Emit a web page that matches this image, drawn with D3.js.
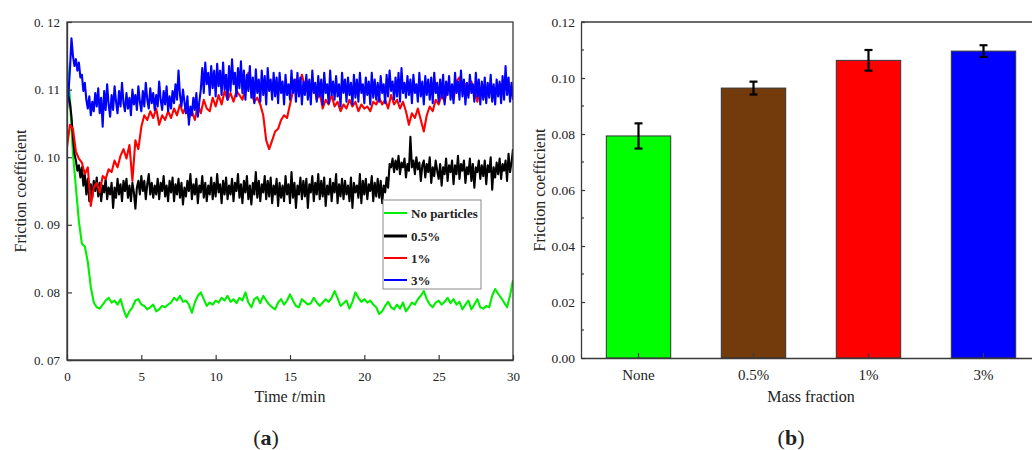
<!DOCTYPE html>
<html>
<head>
<meta charset="utf-8">
<script src="https://cdn.jsdelivr.net/npm/d3@7"></script>
<style>
  html, body { margin: 0; padding: 0; background: #fff; }
  svg { display: block; }
  text { font-family: "Liberation Serif", "Times New Roman", serif; fill: #222; }
</style>
</head>
<body>
<svg id="fig" width="1032" height="450"></svg>
<script>
// ---------- (a) friction coefficient vs time ----------
// "No particles" and "1%" are sampled every 0.2 min, "0.5%" and "3%" every 0.1 min
const stepCoarseMin = 0.2;
const stepFineMin = 0.1;
const seriesNames = ["No particles", "0.5%", "1%", "3%"];
const seriesColors = ["#00ee00", "#000000", "#ff0000", "#0000ff"];

const muNone = [
  0.1142, 0.1085, 0.1005, 0.0955, 0.0905,
  0.0872, 0.0868, 0.0845, 0.0808, 0.0785,
  0.0778, 0.0776, 0.0782, 0.0788, 0.0792,
  0.0785, 0.0788, 0.0782, 0.0790, 0.0775,
  0.0763, 0.0772, 0.0778, 0.0788, 0.0790,
  0.0782, 0.0780, 0.0775, 0.0778, 0.0782,
  0.0772, 0.0775, 0.0780, 0.0778, 0.0782,
  0.0785, 0.0792, 0.0788, 0.0795, 0.0786,
  0.0788, 0.0782, 0.0770, 0.0785, 0.0795,
  0.0800, 0.0790, 0.0780, 0.0785, 0.0782,
  0.0788, 0.0785, 0.0792, 0.0788, 0.0795,
  0.0786, 0.0790, 0.0784, 0.0792, 0.0788,
  0.0800, 0.0785, 0.0778, 0.0790, 0.0793,
  0.0784, 0.0795, 0.0788, 0.0782, 0.0778,
  0.0775, 0.0785, 0.0790, 0.0782, 0.0788,
  0.0797, 0.0788, 0.0780, 0.0778, 0.0790,
  0.0786, 0.0782, 0.0784, 0.0792, 0.0785,
  0.0780, 0.0785, 0.0790, 0.0786, 0.0792,
  0.0802, 0.0792, 0.0780, 0.0784, 0.0788,
  0.0776, 0.0786, 0.0800, 0.0792, 0.0786,
  0.0790, 0.0785, 0.0788, 0.0782, 0.0778,
  0.0768, 0.0772, 0.0780, 0.0786, 0.0778,
  0.0775, 0.0782, 0.0776, 0.0785, 0.0772,
  0.0778, 0.0785, 0.0782, 0.0790, 0.0795,
  0.0802, 0.0790, 0.0782, 0.0778, 0.0785,
  0.0788, 0.0782, 0.0786, 0.0792, 0.0784,
  0.0790, 0.0782, 0.0786, 0.0775, 0.0782,
  0.0788, 0.0775, 0.0782, 0.0790, 0.0778,
  0.0776, 0.0780, 0.0778, 0.0795, 0.0805,
  0.0798, 0.0792, 0.0785, 0.0778, 0.0795,
  0.0818
];

const mu05 = [
  0.1105, 0.1090, 0.1080, 0.1060, 0.1030, 0.1005, 0.0995, 0.0980, 0.0988, 0.0970,
  0.0985, 0.0958, 0.0975, 0.0945, 0.0968, 0.0935, 0.0960, 0.0940, 0.0965, 0.0950,
  0.0970, 0.0942, 0.0962, 0.0935, 0.0958, 0.0948, 0.0968, 0.0938, 0.0955, 0.0945,
  0.0962, 0.0925, 0.0955, 0.0940, 0.0968, 0.0945, 0.0960, 0.0935, 0.0965, 0.0950,
  0.0968, 0.0940, 0.0958, 0.0935, 0.0962, 0.0948, 0.0924, 0.0955, 0.0965, 0.0945,
  0.0972, 0.0950, 0.0965, 0.0938, 0.0960, 0.0975, 0.0945, 0.0962, 0.0940, 0.0958,
  0.0945, 0.0968, 0.0938, 0.0962, 0.0950, 0.0972, 0.0942, 0.0958, 0.0935, 0.0965,
  0.0948, 0.0970, 0.0935, 0.0960, 0.0945, 0.0968, 0.0940, 0.0962, 0.0930, 0.0955,
  0.0942, 0.0965, 0.0950, 0.0975, 0.0938, 0.0960, 0.0945, 0.0968, 0.0932, 0.0958,
  0.0948, 0.0972, 0.0940, 0.0962, 0.0935, 0.0958, 0.0945, 0.0970, 0.0938, 0.0962,
  0.0942, 0.0975, 0.0948, 0.0960, 0.0932, 0.0965, 0.0945, 0.0970, 0.0938, 0.0958,
  0.0945, 0.0968, 0.0935, 0.0962, 0.0950, 0.0975, 0.0940, 0.0960, 0.0932, 0.0965,
  0.0948, 0.0972, 0.0938, 0.0958, 0.0930, 0.0962, 0.0945, 0.0978, 0.0940, 0.0965,
  0.0935, 0.0960, 0.0948, 0.0972, 0.0938, 0.0965, 0.0942, 0.0970, 0.0932, 0.0958,
  0.0945, 0.0968, 0.0928, 0.0962, 0.0940, 0.0958, 0.0935, 0.0972, 0.0945, 0.0960,
  0.0932, 0.0978, 0.0940, 0.0962, 0.0925, 0.0958, 0.0945, 0.0970, 0.0938, 0.0965,
  0.0942, 0.0968, 0.0925, 0.0960, 0.0948, 0.0972, 0.0935, 0.0962, 0.0945, 0.0975,
  0.0938, 0.0965, 0.0942, 0.0970, 0.0928, 0.0958, 0.0945, 0.0968, 0.0935, 0.0962,
  0.0948, 0.0975, 0.0932, 0.0960, 0.0942, 0.0968, 0.0938, 0.0965, 0.0945, 0.0958,
  0.0935, 0.0970, 0.0925, 0.0962, 0.0948, 0.0958, 0.0940, 0.0975, 0.0932, 0.0965,
  0.0945, 0.0968, 0.0938, 0.0960, 0.0950, 0.0972, 0.0935, 0.0962, 0.0942, 0.0968,
  0.0940, 0.0965, 0.0932, 0.0958, 0.0948, 0.0970, 0.0955, 0.0990, 0.0985, 0.0998,
  0.0978, 0.0995, 0.0982, 0.1002, 0.0975, 0.0992, 0.0985, 0.0998, 0.0970, 0.0990,
  0.0980, 0.1030, 0.0985, 0.0995, 0.0975, 0.1000, 0.0982, 0.0992, 0.0965, 0.0988,
  0.0995, 0.0970, 0.0990, 0.0978, 0.1000, 0.0962, 0.0985, 0.0972, 0.0995, 0.0980,
  0.0968, 0.0990, 0.0958, 0.0985, 0.0975, 0.0998, 0.0965, 0.0988, 0.0978, 0.0995,
  0.0960, 0.0988, 0.0975, 0.1002, 0.0968, 0.0990, 0.0980, 0.0995, 0.0962, 0.0985,
  0.0975, 0.0998, 0.0965, 0.0990, 0.0955, 0.0985, 0.0978, 0.0995, 0.0968, 0.0988,
  0.0972, 0.0995, 0.0960, 0.0988, 0.0978, 0.1000, 0.0952, 0.0985, 0.0970, 0.0992,
  0.0975, 0.0998, 0.0968, 0.0990, 0.0980, 0.0995, 0.0965, 0.1005, 0.0978, 0.0992,
  0.1012
];

const mu1 = [
  0.1015, 0.1048, 0.1042, 0.1008, 0.0998,
  0.0992, 0.0975, 0.0985, 0.0928, 0.0955,
  0.0962, 0.0948, 0.0972, 0.0968, 0.0982,
  0.0978, 0.0995, 0.0985, 0.1002, 0.1012,
  0.0998, 0.1018, 0.0965, 0.1025, 0.1012,
  0.1045, 0.1062, 0.1055, 0.1068, 0.1058,
  0.1072, 0.1048, 0.1062, 0.1055, 0.1068,
  0.1058, 0.1072, 0.1062, 0.1078, 0.1065,
  0.1075, 0.1058, 0.1068, 0.1055, 0.1078,
  0.1065, 0.1085, 0.1072, 0.1068, 0.1088,
  0.1075, 0.1092, 0.1078, 0.1098, 0.1085,
  0.1095, 0.1082, 0.1098, 0.1092, 0.1085,
  0.1102, 0.1125, 0.1095, 0.1082, 0.1088,
  0.1078, 0.1062, 0.1025, 0.1012, 0.1025,
  0.1038, 0.1042, 0.1055, 0.1062, 0.1058,
  0.1078, 0.1098, 0.1115, 0.1102, 0.1122,
  0.1105, 0.1112, 0.1098, 0.1108, 0.1085,
  0.1095, 0.1072, 0.1085, 0.1078, 0.1092,
  0.1075, 0.1082, 0.1068, 0.1078, 0.1072,
  0.1085, 0.1075, 0.1082, 0.1068, 0.1078,
  0.1072, 0.1075, 0.1068, 0.1082, 0.1078,
  0.1088, 0.1078, 0.1085, 0.1072, 0.1092,
  0.1078, 0.1085, 0.1072, 0.1082, 0.1068,
  0.1048, 0.1065, 0.1058, 0.1072, 0.1055,
  0.1038, 0.1062, 0.1075, 0.1068, 0.1085,
  0.1078, 0.1092, 0.1082, 0.1105, 0.1098,
  0.1085, 0.1112, 0.1118, 0.1098, 0.1108,
  0.1092, 0.1112, 0.1098, 0.1082, 0.1102,
  0.1088, 0.1098, 0.1105, 0.1092, 0.1102,
  0.1095, 0.1108, 0.1098, 0.1105, 0.1092,
  0.1095
];

const mu3 = [
  0.1070, 0.1095, 0.1130, 0.1176, 0.1150, 0.1135, 0.1145, 0.1128, 0.1140, 0.1118,
  0.1122, 0.1098, 0.1110, 0.1085, 0.1072, 0.1090, 0.1062, 0.1082, 0.1068, 0.1095,
  0.1075, 0.1102, 0.1065, 0.1088, 0.1045, 0.1098, 0.1070, 0.1108, 0.1078, 0.1060,
  0.1092, 0.1070, 0.1105, 0.1082, 0.1065, 0.1098, 0.1075, 0.1110, 0.1080, 0.1068,
  0.1095, 0.1072, 0.1088, 0.1062, 0.1100, 0.1078, 0.1092, 0.1070, 0.1105, 0.1082,
  0.1068, 0.1098, 0.1075, 0.1110, 0.1085, 0.1072, 0.1102, 0.1080, 0.1095, 0.1070,
  0.1092, 0.1075, 0.1112, 0.1085, 0.1070, 0.1098, 0.1078, 0.1105, 0.1068, 0.1090,
  0.1072, 0.1098, 0.1080, 0.1108, 0.1085, 0.1128, 0.1092, 0.1075, 0.1100, 0.1082,
  0.1065, 0.1090, 0.1048, 0.1075, 0.1062, 0.1088, 0.1070, 0.1095, 0.1060, 0.1082,
  0.1100, 0.1132, 0.1095, 0.1140, 0.1108, 0.1125, 0.1092, 0.1135, 0.1102, 0.1128,
  0.1090, 0.1138, 0.1105, 0.1128, 0.1092, 0.1140, 0.1100, 0.1122, 0.1085, 0.1135,
  0.1098, 0.1145, 0.1108, 0.1125, 0.1090, 0.1132, 0.1102, 0.1142, 0.1095, 0.1128,
  0.1085, 0.1122, 0.1098, 0.1135, 0.1088, 0.1118, 0.1080, 0.1130, 0.1095, 0.1115,
  0.1082, 0.1128, 0.1092, 0.1120, 0.1078, 0.1132, 0.1098, 0.1115, 0.1085, 0.1125,
  0.1090, 0.1118, 0.1080, 0.1125, 0.1095, 0.1112, 0.1078, 0.1122, 0.1092, 0.1108,
  0.1085, 0.1128, 0.1095, 0.1115, 0.1082, 0.1125, 0.1090, 0.1118, 0.1078, 0.1112,
  0.1092, 0.1122, 0.1085, 0.1115, 0.1078, 0.1128, 0.1095, 0.1110, 0.1082, 0.1120,
  0.1090, 0.1115, 0.1078, 0.1125, 0.1095, 0.1108, 0.1080, 0.1128, 0.1092, 0.1112,
  0.1085, 0.1120, 0.1090, 0.1108, 0.1075, 0.1125, 0.1095, 0.1115, 0.1082, 0.1118,
  0.1092, 0.1110, 0.1078, 0.1122, 0.1088, 0.1115, 0.1082, 0.1125, 0.1095, 0.1108,
  0.1080, 0.1118, 0.1092, 0.1112, 0.1078, 0.1125, 0.1088, 0.1115, 0.1085, 0.1110,
  0.1082, 0.1120, 0.1095, 0.1108, 0.1080, 0.1122, 0.1090, 0.1128, 0.1098, 0.1112,
  0.1085, 0.1118, 0.1090, 0.1125, 0.1082, 0.1132, 0.1095, 0.1110, 0.1088, 0.1120,
  0.1092, 0.1115, 0.1080, 0.1122, 0.1095, 0.1108, 0.1082, 0.1125, 0.1090, 0.1112,
  0.1078, 0.1120, 0.1092, 0.1115, 0.1085, 0.1118, 0.1080, 0.1125, 0.1095, 0.1110,
  0.1082, 0.1115, 0.1088, 0.1122, 0.1078, 0.1112, 0.1092, 0.1120, 0.1085, 0.1108,
  0.1080, 0.1125, 0.1095, 0.1112, 0.1085, 0.1128, 0.1090, 0.1115, 0.1078, 0.1110,
  0.1088, 0.1122, 0.1095, 0.1108, 0.1082, 0.1125, 0.1090, 0.1115, 0.1078, 0.1112,
  0.1085, 0.1118, 0.1080, 0.1110, 0.1088, 0.1122, 0.1082, 0.1108, 0.1078, 0.1115,
  0.1090, 0.1112, 0.1080, 0.1120, 0.1085, 0.1135, 0.1092, 0.1118, 0.1082, 0.1110,
  0.1085
];

const timeTicks = [0, 5, 10, 15, 20, 25, 30];
const frictionTicksA = [0.07, 0.08, 0.09, 0.10, 0.11, 0.12];

// ---------- (b) mean friction coefficient per mass fraction ----------
const massFractions = ["None", "0.5%", "1%", "3%"];
const meanFriction = [0.0793, 0.0964, 0.1063, 0.1096];
const frictionError = [0.0045, 0.0023, 0.0037, 0.0021];
const barColors = ["#00ff00", "#733a0c", "#ff0000", "#0000ff"];
const frictionTicksB = [0.00, 0.02, 0.04, 0.06, 0.08, 0.10, 0.12];

const svg = d3.select("#fig");
const axisColor = "#3a3a3a";

// ===== Panel (a) =====
const A = { left: 67, right: 513, top: 22, bottom: 360 };
const xA = d3.scaleLinear().domain([0, 30]).range([A.left, A.right]);
const yA = d3.scaleLinear().domain([0.07, 0.12]).range([A.bottom, A.top]);

svg.append("defs").append("clipPath").attr("id", "clipA")
  .append("rect").attr("x", A.left).attr("y", A.top)
  .attr("width", A.right - A.left).attr("height", A.bottom - A.top);

const seriesA = [
  { values: muNone, step: stepCoarseMin },
  { values: mu05, step: stepFineMin },
  { values: mu1, step: stepCoarseMin },
  { values: mu3, step: stepFineMin }
];

const linesG = svg.append("g").attr("clip-path", "url(#clipA)");
// green first, then black, red, blue on top
seriesA.forEach((s, k) => {
  const line = d3.line()
    .x((d, i) => xA(i * s.step))
    .y(d => yA(d));
  linesG.append("path")
    .datum(s.values)
    .attr("d", line)
    .attr("fill", "none")
    .attr("stroke", seriesColors[k])
    .attr("stroke-width", 2.1)
    .attr("stroke-linejoin", "round");
});

// frame
svg.append("rect")
  .attr("x", A.left).attr("y", A.top)
  .attr("width", A.right - A.left).attr("height", A.bottom - A.top)
  .attr("fill", "none").attr("stroke", axisColor).attr("stroke-width", 1.3);

const fmtA = v => d3.format(".2f")(v).replace(".", ". ");

const axA_x = svg.append("g").attr("transform", `translate(0,${A.bottom})`)
  .call(d3.axisBottom(xA).tickValues(timeTicks).tickSizeInner(-5).tickSizeOuter(0).tickPadding(12));
const axA_y = svg.append("g").attr("transform", `translate(${A.left},0)`)
  .call(d3.axisLeft(yA).tickValues(frictionTicksA).tickFormat(fmtA).tickSizeInner(-5).tickSizeOuter(0).tickPadding(7));
[axA_x, axA_y].forEach(g => {
  g.select(".domain").attr("stroke", axisColor).attr("stroke-width", 1.3);
  g.selectAll(".tick line").attr("stroke", axisColor).attr("stroke-width", 1.2);
  g.selectAll(".tick text").attr("font-size", 13).attr("fill", "#222");
});

// axis titles
const tA = svg.append("text").attr("x", 290).attr("y", 402)
  .attr("text-anchor", "middle").attr("font-size", 16);
tA.append("tspan").text("Time ");
tA.append("tspan").attr("font-style", "italic").text("t");
tA.append("tspan").text("/min");

svg.append("text")
  .attr("transform", `translate(26,191) rotate(-90)`)
  .attr("text-anchor", "middle").attr("font-size", 16)
  .text("Friction coefficient");

// legend
const leg = svg.append("g");
leg.append("rect").attr("x", 383).attr("y", 200).attr("width", 98).attr("height", 89)
  .attr("fill", "#fff").attr("stroke", "#8a8a8a").attr("stroke-width", 1);
const legY = [213, 236, 258, 280];
seriesNames.forEach((name, k) => {
  leg.append("line").attr("x1", 384).attr("x2", 407)
    .attr("y1", legY[k]).attr("y2", legY[k])
    .attr("stroke", seriesColors[k]).attr("stroke-width", k === 1 ? 3 : 2);
  leg.append("text").attr("x", 411).attr("y", legY[k] + 4.5)
    .attr("font-size", 13).attr("font-weight", "bold").attr("fill", "#111")
    .text(name);
});

// ===== Panel (b) =====
const B = { left: 581, right: 1041, top: 22, bottom: 358 };
const xB = d3.scaleBand().domain(massFractions).range([B.left, B.right])
  .paddingInner(0.44).paddingOuter(0.22);
const yB = d3.scaleLinear().domain([0, 0.12]).range([B.bottom, B.top]);

svg.append("g").selectAll("rect").data(massFractions).join("rect")
  .attr("x", d => xB(d))
  .attr("y", (d, i) => yB(meanFriction[i]))
  .attr("width", xB.bandwidth())
  .attr("height", (d, i) => yB(0) - yB(meanFriction[i]))
  .attr("fill", (d, i) => barColors[i])
  .attr("stroke", "#333").attr("stroke-width", 1);

// error bars
const errG = svg.append("g").attr("stroke", "#000").attr("stroke-width", 2.2);
massFractions.forEach((d, i) => {
  const cx = xB(d) + xB.bandwidth() / 2;
  const hi = yB(meanFriction[i] + frictionError[i]);
  const lo = yB(meanFriction[i] - frictionError[i]);
  errG.append("line").attr("x1", cx).attr("x2", cx).attr("y1", hi).attr("y2", lo);
  errG.append("line").attr("x1", cx - 4).attr("x2", cx + 4).attr("y1", hi).attr("y2", hi);
  errG.append("line").attr("x1", cx - 4).attr("x2", cx + 4).attr("y1", lo).attr("y2", lo);
});

// top border line
svg.append("line").attr("x1", B.left).attr("x2", B.right)
  .attr("y1", B.top).attr("y2", B.top)
  .attr("stroke", axisColor).attr("stroke-width", 1.3);

const axB_y = svg.append("g").attr("transform", `translate(${B.left},0)`)
  .call(d3.axisLeft(yB).tickValues(frictionTicksB).tickFormat(d3.format(".2f"))
    .tickSizeInner(-4).tickSizeOuter(0).tickPadding(6));
// minor ticks halfway between labelled ticks
const minorB = frictionTicksB.slice(0, -1).map((v, i) => (v + frictionTicksB[i + 1]) / 2);
svg.append("g").selectAll("line").data(minorB).join("line")
  .attr("x1", B.left).attr("x2", B.left + 3)
  .attr("y1", d => yB(d)).attr("y2", d => yB(d))
  .attr("stroke", axisColor).attr("stroke-width", 1.2);

const axB_x = svg.append("g").attr("transform", `translate(0,${B.bottom})`)
  .call(d3.axisBottom(xB).tickSizeInner(-5).tickSizeOuter(0).tickPadding(11));
[axB_x, axB_y].forEach(g => {
  g.select(".domain").attr("stroke", axisColor).attr("stroke-width", 1.3);
  g.selectAll(".tick line").attr("stroke", axisColor).attr("stroke-width", 1.2);
  g.selectAll(".tick text").attr("fill", "#222");
});
axB_y.selectAll(".tick text").attr("font-size", 13.5);
axB_x.selectAll(".tick text").attr("font-size", 15);

svg.append("text").attr("x", 811).attr("y", 402)
  .attr("text-anchor", "middle").attr("font-size", 16)
  .text("Mass fraction");

svg.append("text")
  .attr("transform", `translate(545,190) rotate(-90)`)
  .attr("text-anchor", "middle").attr("font-size", 16)
  .text("Friction coefficient");

// panel captions
[["a", 266], ["b", 791]].forEach(([letter, cx]) => {
  const t = svg.append("text").attr("x", cx).attr("y", 445)
    .attr("text-anchor", "middle").attr("font-size", 22).attr("fill", "#111");
  t.append("tspan").text("(");
  t.append("tspan").attr("font-weight", "bold").text(letter);
  t.append("tspan").text(")");
});
</script>
</body>
</html>
